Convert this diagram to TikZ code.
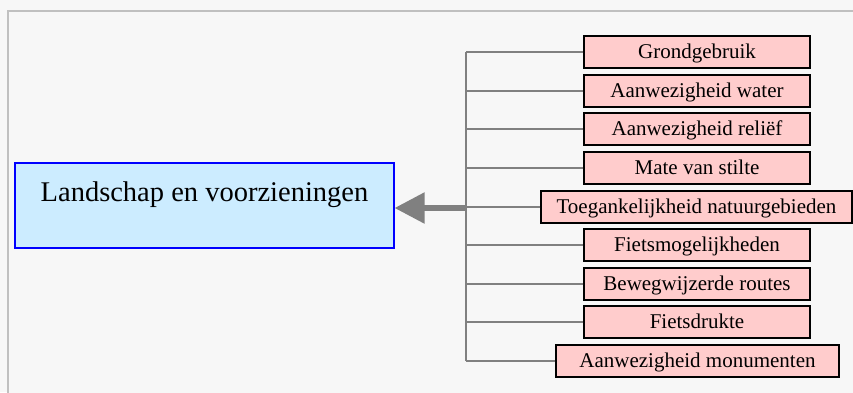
\documentclass[tikz,border=0pt]{standalone}
\usepackage{fontspec}
\setmainfont{Liberation Serif}
\usetikzlibrary{arrows.meta}
\definecolor{bgc}{HTML}{F7F7F7}
\definecolor{framec}{HTML}{C0C0C0}
\definecolor{mainfill}{HTML}{CCECFF}
\definecolor{subfill}{HTML}{FFCCCC}
\definecolor{linec}{HTML}{808080}
\tikzset{
  mainbox/.style={draw=blue, line width=1.2pt, fill=mainfill, minimum width=379pt, minimum height=85pt,
    inner sep=0pt, text height=20pt, text depth=28pt, font=\fontsize{28.5}{32}\selectfont},
  subbox/.style={draw=black, line width=1.5pt, fill=subfill, minimum height=32pt, inner sep=0pt,
    text height=15pt, text depth=3pt, font=\fontsize{21}{24}\selectfont},
  conn/.style={draw=linec, line width=1.8pt},
}
\begin{document}
\begin{tikzpicture}[x=1pt,y=-1pt]
\useasboundingbox (0,0) rectangle (853,392);
\fill[bgc] (0,0) rectangle (853,392);
\draw[framec, line width=1.2pt, fill=bgc] (8,11) rectangle (870,410);
\node[mainbox] (main) at (204.5,205.5) {Landschap en voorzieningen};
\node[subbox, minimum width=226pt] (b1) at (697,52) {Grondgebruik};
\node[subbox, minimum width=226pt] (b2) at (697,91) {Aanwezigheid water};
\node[subbox, minimum width=226pt] (b3) at (697,129) {Aanwezigheid reliëf};
\node[subbox, minimum width=226pt] (b4) at (697,168) {Mate van stilte};
\node[subbox, minimum width=311pt] (b5) at (696.5,207) {Toegankelijkheid natuurgebieden};
\node[subbox, minimum width=226pt] (b6) at (697,245) {Fietsmogelijkheden};
\node[subbox, minimum width=226pt] (b7) at (697,284) {Bewegwijzerde routes};
\node[subbox, minimum width=226pt] (b8) at (697,322) {Fietsdrukte};
\node[subbox, minimum width=283pt] (b9) at (697.5,361) {Aanwezigheid monumenten};
\coordinate (bus) at (466,208);
\draw[conn] (b1.west -| bus) -- (b9.west -| bus);
\foreach \i in {1,...,9} {
  \draw[conn] (b\i.west) -- (b\i.west -| bus);
}
\draw[draw=linec, line width=5.5pt, -{Triangle[length=30pt 0 0, width=30pt 0 0]}] (bus) -- (bus -| main.east);
\end{tikzpicture}
\end{document}
